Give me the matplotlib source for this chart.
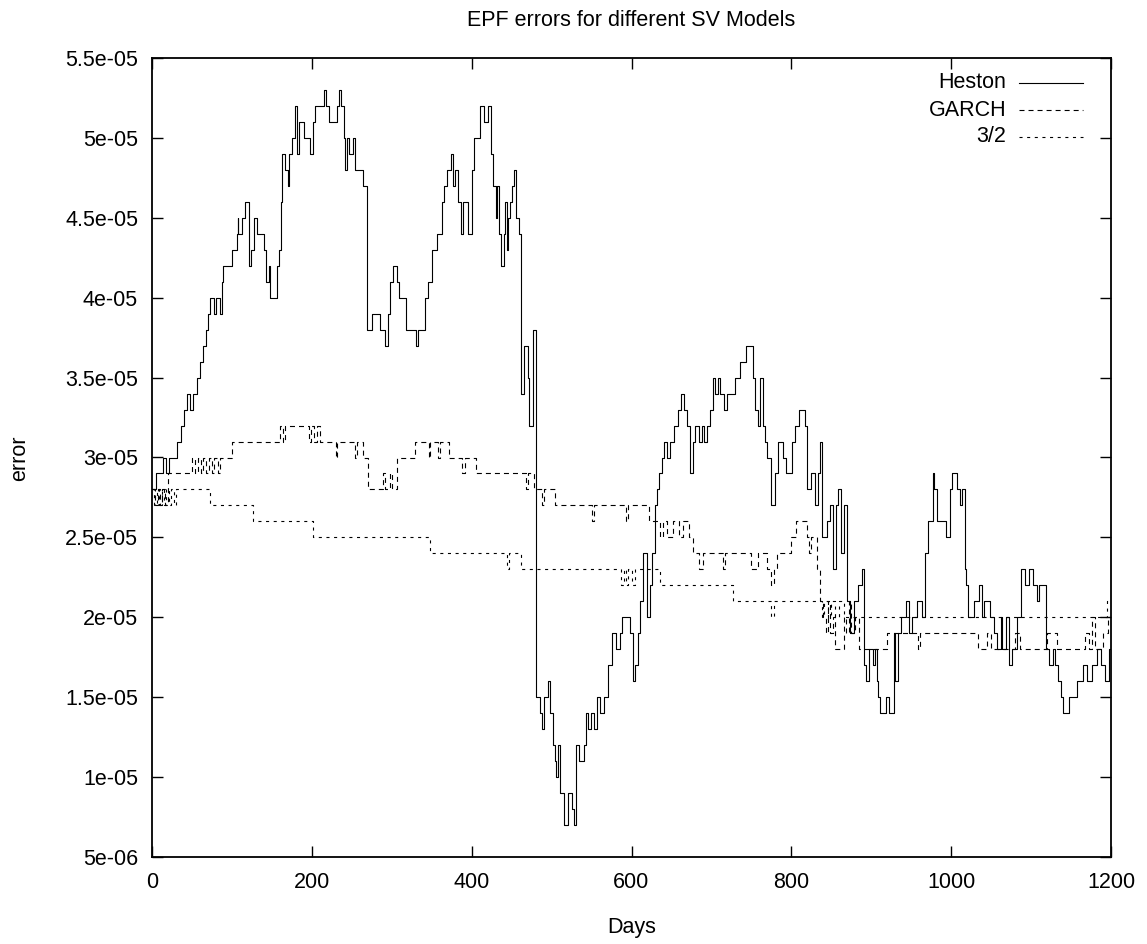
import numpy as np
import matplotlib
matplotlib.use("Agg")
import matplotlib.pyplot as plt
from matplotlib.lines import Line2D
from matplotlib.ticker import FuncFormatter, MultipleLocator

plt.rcParams['font.family'] = ['Liberation Sans', 'DejaVu Sans']
plt.rcParams['lines.scale_dashes'] = False

# ---- data: breakpoints (day, error in units of 1e-6), drawn as steps ----
heston_days = [0, 5, 14, 18, 21, 31, 36, 40, 44, 47, 51, 56, 60, 64, 67, 70, 73, 78, 80, 85,
               88, 89, 100, 106, 107, 108, 112, 116, 121, 124, 128, 131, 140, 143, 146, 148,
               156, 159, 161, 163, 166, 170, 172, 175, 179, 181, 184, 190, 198, 201, 204, 215,
               218, 222, 232, 234, 237, 240, 242, 244, 246, 252, 254, 264, 269, 275, 285, 292,
               295, 298, 301, 307, 309, 318, 330, 333, 341, 345, 350, 356, 363, 366, 369, 374,
               377, 379, 383, 387, 389, 396, 400, 403, 411, 415, 420, 424, 427, 430, 432, 434,
               437, 440, 442, 444, 446, 448, 450, 453, 456, 459, 462, 466, 470, 472, 477, 480,
               485, 488, 491, 495, 498, 502, 504, 506, 508, 511, 515, 520, 526, 528, 531, 534,
               540, 543, 546, 549, 553, 557, 560, 565, 570, 575, 580, 585, 588, 598, 602, 605,
               608, 611, 615, 620, 623, 626, 630, 632, 635, 638, 641, 644, 648, 653, 658, 662,
               666, 669, 673, 677, 680, 685, 688, 691, 694, 698, 702, 705, 708, 711, 716, 719,
               730, 736, 743, 752, 755, 758, 761, 764, 767, 770, 775, 779, 783, 790, 793, 801,
               805, 809, 817, 820, 825, 829, 833, 836, 838, 845, 848, 852, 856, 859, 862, 866,
               870, 874, 878, 884, 888, 891, 894, 897, 902, 905, 907, 909, 911, 918, 922, 928,
               930, 934, 937, 944, 947, 951, 957, 964, 967, 971, 977, 979, 982, 994, 998, 1001,
               1007, 1011, 1013, 1017, 1019, 1021, 1028, 1035, 1038, 1041, 1048, 1054, 1057,
               1062, 1064, 1069, 1072, 1076, 1082, 1088, 1093, 1098, 1103, 1108, 1110, 1119,
               1122, 1127, 1130, 1134, 1137, 1140, 1147, 1157, 1165, 1170, 1176, 1183, 1188,
               1192, 1197, 1200]
heston_vals = [28, 29, 30, 29, 30, 31, 32, 33, 34, 33, 34, 35, 36, 37, 38, 39, 40, 39, 40, 39,
               41, 42, 43, 44, 45, 44, 45, 46, 42, 43, 45, 44, 43, 41, 42, 40,
               42, 43, 46, 49, 48, 47, 49, 50, 52, 49, 51, 50, 49, 51, 52, 53,
               52, 51, 52, 53, 52, 50, 48, 50, 49, 50, 48, 47, 38, 39, 38, 37,
               39, 41, 42, 41, 40, 38, 37, 38, 40, 41, 43, 44, 46, 47, 48, 49,
               47, 48, 46, 44, 46, 44, 48, 50, 52, 51, 52, 49, 47, 45, 47, 44,
               42, 44, 46, 43, 45, 46, 47, 48, 45, 44, 34, 37, 35, 32, 38, 15,
               14, 13, 15, 16, 14, 12, 11, 10, 12, 9, 7, 9, 8, 7, 12, 11,
               12, 14, 13, 14, 13, 15, 14, 15, 17, 19, 18, 19, 20, 19, 16, 17,
               19, 21, 24, 20, 22, 24, 27, 28, 29, 30, 31, 30, 31, 32, 33, 34,
               33, 32, 29, 31, 32, 31, 32, 31, 32, 33, 35, 34, 35, 34, 33, 34,
               35, 36, 37, 35, 33, 32, 35, 32, 31, 30, 27, 29, 31, 30, 29, 31,
               32, 33, 32, 28, 29, 27, 29, 31, 25, 26, 27, 23, 27, 28, 24, 27,
               21, 19, 21, 22, 23, 17, 16, 18, 17, 18, 16, 15, 14, 15, 14, 19,
               16, 19, 20, 21, 19, 20, 21, 20, 24, 26, 29, 28, 26, 25, 28, 29,
               28, 27, 28, 23, 22, 20, 21, 22, 20, 21, 20, 19, 18,
               20, 18, 20, 17, 18, 20, 23, 22, 23, 22, 21, 22, 18,
               17, 18, 17, 16, 15, 14, 15, 16, 17, 16, 17, 18, 17,
               16, 18, 18]

garch_days = [0, 4, 7, 10, 13, 16, 20, 50, 54, 57, 61, 64, 68, 71, 75, 78, 82, 85, 100, 160,
              164, 167, 196, 199, 203, 206, 210, 230, 232, 254, 257, 264, 270, 289, 291, 298,
              300, 307, 329, 346, 348, 358, 360, 372, 388, 392, 406, 468, 470, 478, 488, 490,
              504, 551, 553, 593, 595, 622, 636, 640, 645, 652, 660, 665, 672, 677, 685, 690,
              715, 717, 750, 758, 770, 775, 778, 782, 800, 806, 819, 822, 825, 832, 836, 840,
              843, 846, 849, 852, 855, 866, 869, 872, 875, 880, 885, 920, 958, 961, 1034,
              1045, 1050, 1080, 1086, 1120, 1133, 1168, 1172, 1176, 1180, 1190, 1196, 1200]
garch_vals = [28, 27, 28, 27, 28, 27, 29, 30, 29, 30, 29, 30, 29, 30, 29, 30, 29, 30, 31, 32,
              31, 32, 31, 32, 31, 32, 31, 30, 31, 30, 31, 30, 28, 29, 28, 29,
              28, 30, 31, 30, 31, 30, 31, 30, 29, 30, 29, 28, 29, 28, 27, 28,
              27, 26, 27, 26, 27, 26, 25, 26, 25, 26, 25, 26, 25, 24, 23, 24,
              23, 24, 23, 24, 23, 22, 23, 24, 25, 26, 25, 24, 25, 23, 21, 20,
              19, 21, 19, 20, 18, 20, 19, 21, 19, 20, 18, 19, 18, 19, 18,
              19, 18, 19, 18, 19, 18, 19, 18, 20, 18, 19, 20, 20]

three_half_days = [0, 3, 6, 9, 12, 15, 18, 21, 24, 27, 30, 73, 127, 202, 348, 444, 447, 462,
                   587, 590, 593, 596, 600, 605, 626, 636, 727, 774, 778, 838, 841, 846, 850,
                   855, 860, 866, 1195, 1200]
three_half_vals = [28, 27, 28, 27, 28, 27, 28, 27, 28, 27, 28, 27, 26, 25, 24, 23, 24, 23,
                   22, 23, 22, 23, 22, 23, 23, 22, 21, 20, 21, 20, 21, 20, 21,
                   20, 21, 20, 21, 21]

series = [("Heston", heston_days, heston_vals, '-'),
          ("GARCH", garch_days, garch_vals, (0, (3.6, 2.9))),
          ("3/2", three_half_days, three_half_vals, (0, (2.2, 3.3)))]

title = "EPF errors for different SV Models"
xlabel = "Days"
ylabel = "error"

W, H = 1147, 944
L, R, T, B = 152, 1111, 58, 857
fig = plt.figure(figsize=(W / 100, H / 100), dpi=100)
ax = fig.add_axes([L / W, 1 - B / H, (R - L) / W, (B - T) / H])

fs = 15.5
for i, (name, d, v, ls) in enumerate(series):
    vals = np.asarray(v, dtype=float) * 1e-6
    ax.plot(d, vals, drawstyle='steps-post', color='black', lw=0.8, linestyle=ls)
    # gnuplot-style key entry: right-aligned label, sample line to its right
    row_y = (B - (83 + 27 * i)) / (B - T)
    ax.text((1006 - L) / (R - L), row_y, name, transform=ax.transAxes,
            ha='right', va='center', fontsize=fs)
    ax.add_line(Line2D([(1019 - L) / (R - L), (1083 - L) / (R - L)], [row_y, row_y],
                       transform=ax.transAxes, color='black', lw=0.8, linestyle=ls))

ax.set_xlim(0, 1200)
ax.set_ylim(5e-06, 5.5e-05)
ax.xaxis.set_major_locator(MultipleLocator(200))
ax.yaxis.set_major_locator(MultipleLocator(5e-06))
ax.yaxis.set_major_formatter(FuncFormatter(lambda y, p: '%g' % y))
ax.tick_params(direction='in', length=8, width=1, top=True, right=True, labelsize=fs)
ax.tick_params(axis='x', pad=11)
ax.tick_params(axis='y', pad=10)
for s in ax.spines.values():
    s.set_linewidth(1.3)

fig.text((L + R) / 2 / W, 1 - 20 / H, title, ha='center', va='center', fontsize=fs)
fig.text((L + R) / 2 / W, 1 - 927 / H, xlabel, ha='center', va='center', fontsize=fs)
fig.text(20 / W, 1 - 458 / H, ylabel, ha='center', va='center', fontsize=fs, rotation=90)

fig.savefig("out.png", dpi=100)
